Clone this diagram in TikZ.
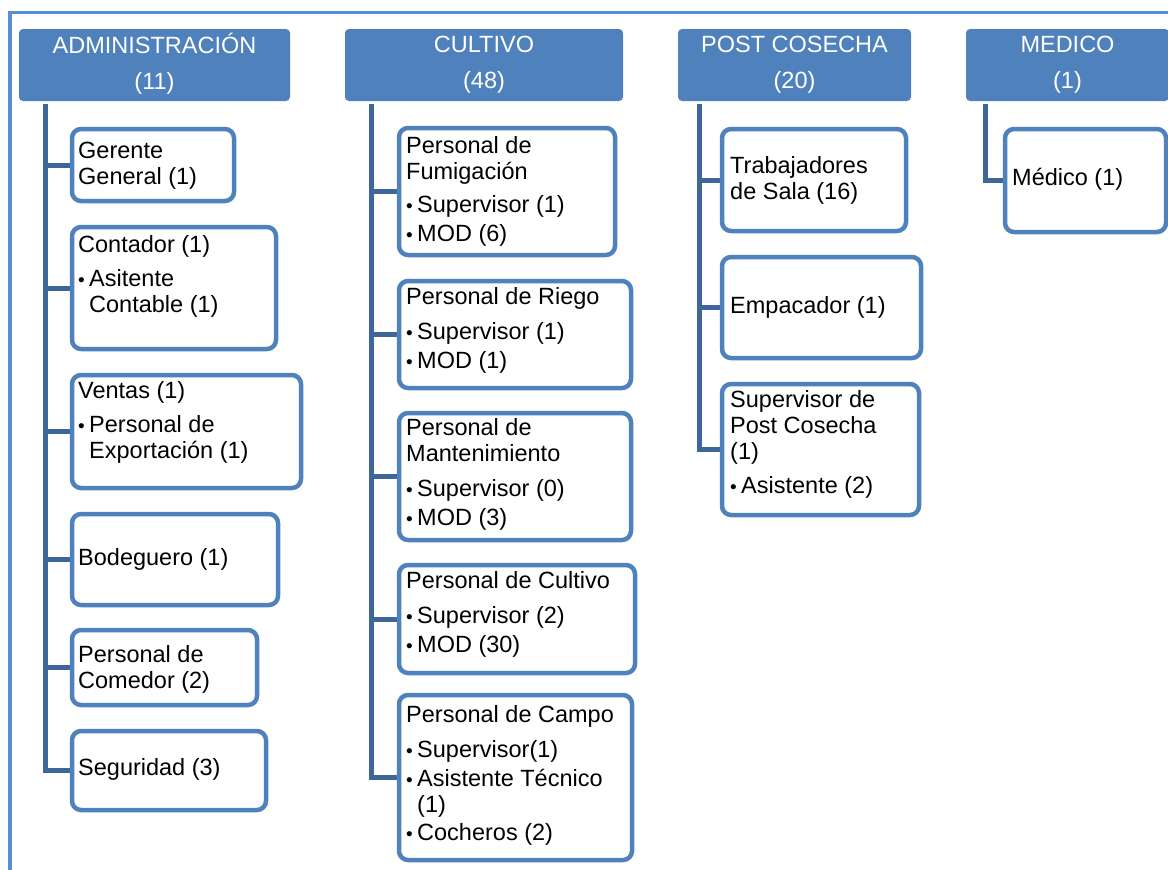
\documentclass[tikz,border=0pt]{standalone}
\usepackage{fontspec}
\setmainfont{Liberation Sans}
\usetikzlibrary{backgrounds}

\definecolor{headblue}{RGB}{79,129,189}
\definecolor{linkblue}{RGB}{62,102,152}
\definecolor{frameblue}{RGB}{88,142,212}

% small bullet with hanging indent, and the matching indent for wrapped lines
\newcommand\itemdot{\makebox[11pt][l]{\fontsize{19}{19}\selectfont\textbullet}}
\newcommand\contindent{\hspace*{11pt}}

% card from its corner coordinates (border centre line)
\newcommand\card[5]{%
  \node[card, minimum width={(#4)-(#2)}, minimum height={(#5)-(#3)}]
    (#1) at ({((#2)+(#4))/2},{((#3)+(#5))/2}) {};}

\begin{document}
\begin{tikzpicture}[
  x=1pt, y=-1pt,
  txtfont/.style={font=\fontsize{23.5}{26}\selectfont},
  head/.style={fill=headblue, rounded corners=4pt, text=white, align=center,
    inner sep=0pt, txtfont},
  card/.style={draw=headblue, line width=4.5pt, fill=white, rounded corners=9pt,
    inner sep=0pt},
  txt/.style={anchor=north west, align=left, inner sep=0pt, yshift=18.2pt,
    text=black, txtfont},
  link/.style={draw=linkblue, line width=5pt},
  frame/.style={draw=frameblue, line width=3.2pt}
]
\useasboundingbox (0,0) rectangle (1168,870);
\clip (0,0) rectangle (1168,870);

% department headers
\node[head, minimum width=271, minimum height=72] (adm) at (154.5,65)
  {\strut ADMINISTRACIÓN\\[10pt]\strut (11)};
\node[head, minimum width=278, minimum height=72] (cult) at (484,65)
  {\strut CULTIVO\\[10pt]\strut (48)};
\node[head, minimum width=233, minimum height=72] (post) at (794.5,65)
  {\strut POST COSECHA\\[10pt]\strut (20)};
\node[head, minimum width=203, minimum height=72] (med) at (1067.5,65)
  {\strut MEDICO\\[10pt]\strut (1)};

% ADMINISTRACION cards
\card{gg}{72}{129}{234}{201}
\card{cont}{72}{227}{276}{349}
\card{vent}{72}{375}{301}{488}
\card{bod}{72}{514}{278}{605}
\card{com}{72}{630}{257}{705}
\card{seg}{72}{731}{266}{810}
% CULTIVO cards
\card{fum}{399}{128}{615}{255}
\card{rie}{399}{281}{631}{388}
\card{man}{399}{413}{631}{540}
\card{cul}{399}{565}{635}{673}
\card{cam}{399}{695}{632}{860}
% POST COSECHA cards
\card{tra}{722}{129}{906}{231}
\card{emp}{722}{257}{921}{358}
\card{sup}{722}{384}{919}{515}
% MEDICO card
\card{medc}{1005}{129}{1166}{232}

% card texts
\node[txt] (gg-t) at (78,158) {\strut Gerente\\General (1)};
\node[txt] (cont-t) at (78,252) {\strut Contador (1)\\[8pt]\itemdot Asitente\\\contindent Contable (1)};
\node[txt] (vent-t) at (78,398) {\strut Ventas (1)\\[8pt]\itemdot Personal de\\\contindent Exportación (1)};
\node[txt] (bod-t) at (78,565) {\strut Bodeguero (1)};
\node[txt] (com-t) at (78,662) {\strut Personal de\\Comedor (2)};
\node[txt] (seg-t) at (78,775) {\strut Seguridad (3)};

\node[txt] (fum-t) at (406,153) {\strut Personal de\\Fumigación\\[7pt]\itemdot Supervisor (1)\\[3pt]\itemdot MOD (6)};
\node[txt] (rie-t) at (406,304) {\strut Personal de Riego\\[9pt]\itemdot Supervisor (1)\\[3pt]\itemdot MOD (1)};
\node[txt] (man-t) at (406,435) {\strut Personal de\\Mantenimiento\\[9pt]\itemdot Supervisor (0)\\[3pt]\itemdot MOD (3)};
\node[txt] (cul-t) at (406,588) {\strut Personal de Cultivo\\[9pt]\itemdot Supervisor (2)\\[3pt]\itemdot MOD (30)};
\node[txt] (cam-t) at (406,722) {\strut Personal de Campo\\[9pt]\itemdot Supervisor(1)\\[3pt]\itemdot Asistente Técnico\\\contindent (1)\\[2pt]\itemdot Cocheros (2)};

\node[txt] (tra-t) at (730,173) {\strut Trabajadores\\de Sala (16)};
\node[txt] (emp-t) at (730,313) {\strut Empacador (1)};
\node[txt] (sup-t) at (730,407) {\strut Supervisor de\\Post Cosecha\\(1)\\[8pt]\itemdot Asistente (2)};

\node[txt] (medc-t) at (1012,185) {\strut Médico (1)};

% connectors and page frame, behind the cards
\begin{scope}[on background layer]
  \draw[frame] (10,870) -- (10,12.5) -- (1168,12.5);

  \coordinate (admtop) at (45.5,104);
  \coordinate (culttop) at (371,104);
  \coordinate (posttop) at (699,104);
  \coordinate (medtop) at (985,104);

  \foreach \c in {gg,cont,vent,bod,com,seg}
    \draw[link] (admtop) |- (\c.west);
  \foreach \c in {fum,rie,man,cul,cam}
    \draw[link] (culttop) |- (\c.west);
  \foreach \c in {tra,emp,sup}
    \draw[link] (posttop) |- (\c.west);
  \draw[link] (medtop) |- (medc.west);
\end{scope}
\end{tikzpicture}
\end{document}
